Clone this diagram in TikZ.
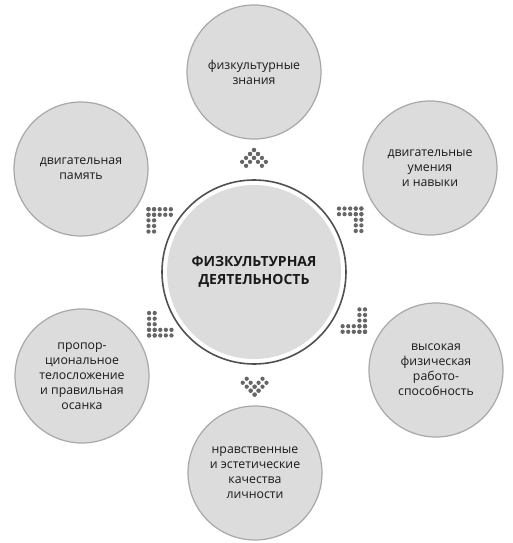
\documentclass[tikz,border=0pt]{standalone}
\usepackage{fontspec}
\setmainfont{Open Sans}
\usetikzlibrary{calc}
\definecolor{discfill}{HTML}{DCDCDC}
\definecolor{discline}{HTML}{A8A8A8}
\definecolor{ringline}{HTML}{505050}
\definecolor{dotgrey}{HTML}{666666}
\definecolor{inkgrey}{HTML}{1A1A1A}
\tikzset{
  pics/dotarrow/.style={
    code={
      \foreach \a in {0,...,#1}
        \foreach \b in {0,1}
          {
          \fill[dotgrey] (-\a*5.6pt,-\b*5.6pt) circle[radius=2.15pt];
          \fill[dotgrey] (-\b*5.6pt,-\a*5.6pt) circle[radius=2.15pt];
          }
    }
  }
}

\begin{document}
\begin{tikzpicture}
  [
  x = 1pt, y = 1pt,
  topic/.style = {circle, draw=discline, line width=1.2pt, fill=discfill,
                  minimum size=134pt, inner sep=0pt, align=center,
                  text=inkgrey, font=\fontsize{12.3}{15}\selectfont},
  hub/.style   = {circle, fill=discfill, minimum size=174pt, inner sep=0pt,
                  align=center, text=inkgrey,
                  font=\fontsize{14}{18}\selectfont\bfseries}
  ]
  \useasboundingbox (0,0) rectangle (512,-543);

  \node [hub] (centre) at (254,-272) {ФИЗКУЛЬТУРНАЯ\\ДЕЯТЕЛЬНОСТЬ};
  \draw [ringline, line width=1.6pt] (centre) circle [radius=92pt];

  \node [topic] (know)   at (254,-72)  {физкультурные\\знания};
  \node [topic] (skills) at (430,-168) {двигательные\\умения\\и навыки};
  \node [topic] (power)  at (436,-370) {высокая\\физическая\\работо-\\способность};
  \node [topic] (moral)  at (255,-473) {нравственные\\и эстетические\\качества\\личности};
  \node [topic] (body)   at (82,-376)  {пропор-\\циональное\\телосложение\\и правильная\\осанка};
  \node [topic] (memory) at (81,-169)  {двигательная\\память};

  % dotted arrow heads, corner towards each outer disc
  \foreach \target/\turn/\len in {know/45/3, skills/0/4, power/-90/4,
                                  moral/-135/3, body/180/4, memory/90/4}
    \pic [rotate=\turn] at ($(centre)!0.61!(\target)$) {dotarrow=\len};
\end{tikzpicture}
\end{document}
